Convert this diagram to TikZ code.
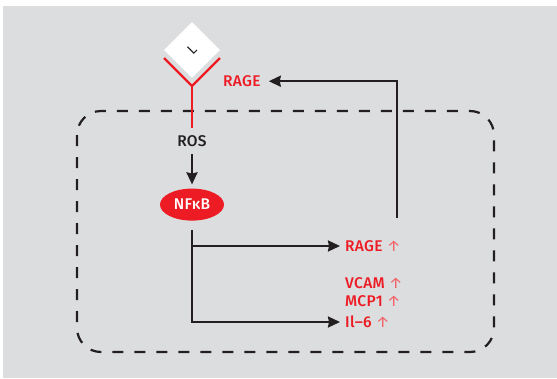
\documentclass[tikz,border=0pt]{standalone}
\usepackage{xcolor}
\usepackage{fontspec}
\setmainfont[BoldFont={Fira Sans Medium}, LetterSpace=2]{Fira Sans}
\usetikzlibrary{shapes.geometric, arrows.meta, positioning}
\definecolor{mydark}{RGB}{35,31,32}
\definecolor{myred}{RGB}{237,28,36}
\definecolor{mypanel}{RGB}{220,221,223}
\newcommand{\upmark}{{\mdseries\color{myred!70}↑}}
\tikzset{
  line/.style={draw=mydark, line width=2.2pt},
  arrow/.style={draw=mydark, line width=2.2pt, -{Stealth[length=12pt, width=11pt, inset=1pt]}},
  receptor/.style={draw=myred, line width=2.2pt},
  boundary/.style={draw=mydark, line width=2.2pt, dash pattern=on 11pt off 11pt, rounded corners=24pt},
  ligand/.style={diamond, fill=white, aspect=1, inner sep=0pt, minimum width=56pt, minimum height=56pt},
  redlabel/.style={text=myred, font=\fontsize{15.5}{17}\selectfont\bfseries, inner sep=0pt},
  darklabel/.style={text=mydark, font=\fontsize{15.5}{17}\selectfont\bfseries, inner sep=0pt, minimum height=26pt},
  factor/.style={ellipse, fill=myred, text=white, font=\fontsize{15.5}{17}\selectfont\bfseries, inner sep=0pt, minimum width=64pt, minimum height=32pt}
}
\begin{document}
\begin{tikzpicture}[x=1pt, y=-1pt]
  \useasboundingbox (0,0) rectangle (557,378);
  \fill [mypanel] (3,6) rectangle (557,378);
  \draw [boundary] (77,111) rectangle (494,352);

  \node [ligand] (lig) at (192,50) {};
  \node [text=mydark, font=\fontsize{14}{15}\selectfont, rotate=45, inner sep=0pt] (l) at (lig.center) {L};
  \coordinate [below=36pt of lig.center] (fork);
  \coordinate [above left=28pt and 28pt of fork] (armL);
  \coordinate [above right=28pt and 28pt of fork] (armR);

  \node [darklabel, below=78pt of lig.center] (ros) {ROS};
  \node [factor, below=34pt of ros] (nfkb) {NFκB};
  \node [redlabel, anchor=west] (rageout) at (345,246) {RAGE \upmark};
  \node [redlabel, below=37pt of rageout.west, anchor=west] (vcam) {VCAM \upmark};
  \node [redlabel, below=18pt of vcam.west, anchor=west] (mcp) {MCP1 \upmark};
  \node [redlabel, below=21pt of mcp.west, anchor=west] (il) {Il–6 \upmark};
  \node [redlabel, right=31pt of lig.south, yshift=-3pt] (ragein) {RAGE};
  \coordinate (loop) at (397,218);

  \draw [receptor] (armL) -- (fork) -- (armR);
  \draw [receptor] (fork) -- (ros.north);
  \draw [arrow, shorten >=4pt] (ros) -- (nfkb);
  \draw [arrow, shorten >=5pt] (nfkb.south |- rageout.west) -- (rageout.west);
  \draw [arrow, shorten <=9pt, shorten >=5pt] (nfkb.south) |- (il.west);
  \draw [arrow, shorten >=8pt] (loop) |- (ragein.east);
\end{tikzpicture}
\end{document}
